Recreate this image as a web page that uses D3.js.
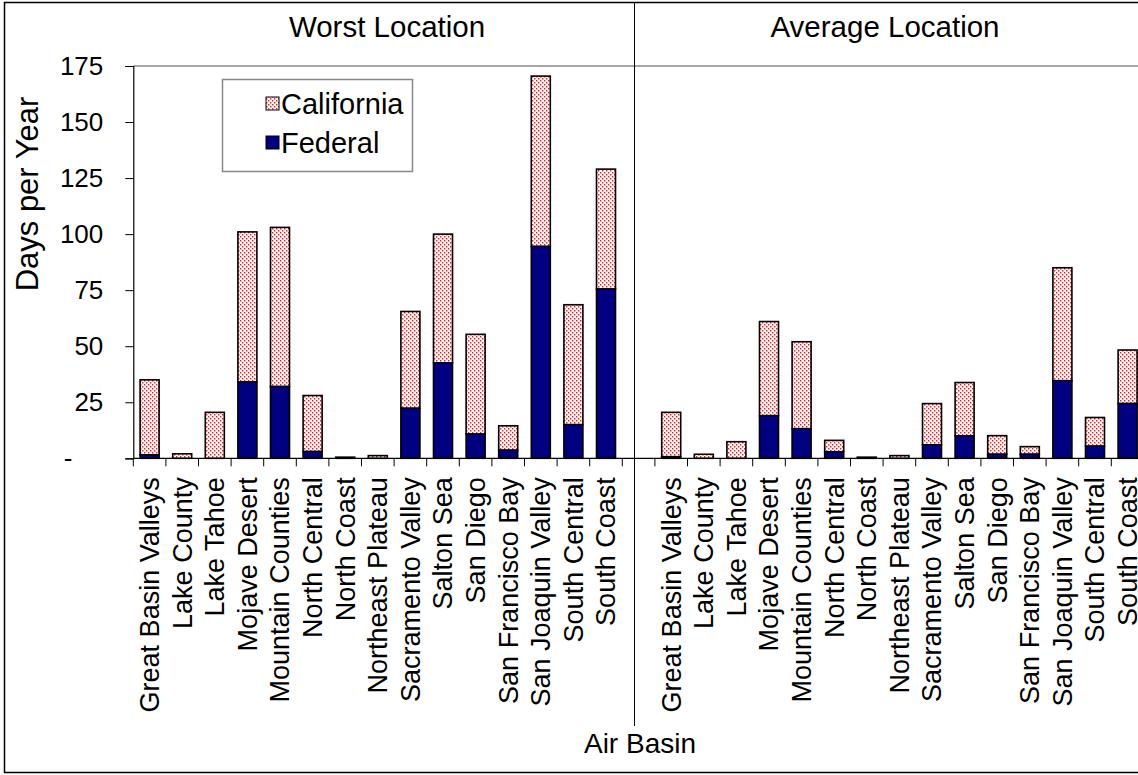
<!DOCTYPE html>
<html>
<head>
<meta charset="utf-8">
<script src="https://cdn.jsdelivr.net/npm/d3@7"></script>
<style>
  html, body { margin: 0; padding: 0; background: #fff; }
  svg { display: block; font-family: Arial, "Liberation Sans", sans-serif; }
</style>
</head>
<body>
<svg id="chart" width="1138" height="775"></svg>
<script>
// ---- data ----
const categories = ["Great Basin Valleys", "Lake County", "Lake Tahoe", "Mojave Desert", "Mountain Counties",
  "North Central", "North Coast", "Northeast Plateau", "Sacramento Valley", "Salton Sea", "San Diego",
  "San Francisco Bay", "San Joaquin Valley", "South Central", "South Coast"];
const panels = ["Worst Location", "Average Location"];
const worstFederal    = [1.5, 0, 0, 34, 32, 3, 0, 0, 22.3, 42.6, 10.8, 3.6, 94.5, 15, 75.5];
const worstCalifornia = [35, 2, 20.5, 101, 103, 28, 0.5, 1.2, 65.5, 100, 55.3, 14.5, 170.5, 68.5, 129];
const avgFederal      = [0.7, 0, 0, 19, 13.2, 2.9, 0, 0, 6, 10, 1.8, 1.8, 34.6, 5.4, 24.4];
const avgCalifornia   = [20.5, 1.8, 7.4, 61, 52, 8, 0.5, 1.2, 24.4, 33.8, 10.1, 5.2, 85, 18.2, 48.3];
const yTickValues = [0, 25, 50, 75, 100, 125, 150, 175];
const yTickLabels = ["-", "25", "50", "75", "100", "125", "150", "175"];
const seriesNames = ["California", "Federal"];

// ---- build rows ----
const rows = [];
categories.forEach((c, i) => rows.push({key: "W|" + c, name: c, fed: worstFederal[i], cal: worstCalifornia[i]}));
const gapKey = "gap";
categories.forEach((c, i) => rows.push({key: "A|" + c, name: c, fed: avgFederal[i], cal: avgCalifornia[i]}));
const domain = [...categories.map(c => "W|" + c), gapKey, ...categories.map(c => "A|" + c)];

const svg = d3.select("#chart");
const FONT = 'Arial, "Liberation Sans", sans-serif';

// pattern
const defs = svg.append("defs");
const pat = defs.append("pattern").attr("id", "dots").attr("patternUnits", "userSpaceOnUse")
  .attr("width", 4).attr("height", 4);
pat.append("rect").attr("width", 4).attr("height", 4).attr("fill", "#fff");
pat.append("rect").attr("x", 0).attr("y", 0).attr("width", 1.5).attr("height", 1.5).attr("fill", "#ff1a1a");
pat.append("rect").attr("x", 2).attr("y", 2).attr("width", 1.5).attr("height", 1.5).attr("fill", "#ff1a1a");
pat.append("rect").attr("x", 1.5).attr("y", 0).attr("width", 0.5).attr("height", 1.5).attr("fill", "#ffb8b8");
pat.append("rect").attr("x", 3.5).attr("y", 2).attr("width", 0.5).attr("height", 1.5).attr("fill", "#ffb8b8");

// outer border
svg.append("rect").attr("x", 4.5).attr("y", 2.5).attr("width", 1150).attr("height", 770)
  .attr("fill", "none").attr("stroke", "#000").attr("stroke-width", 1.5);

// scales
const left = 133.3, step = 32.6;
const x = d3.scaleBand().domain(domain).range([left, left + step * domain.length])
  .paddingInner(0.417).paddingOuter(0.2085);
const y = d3.scaleLinear().domain([0, 175]).range([458.3, 66]);

// plot top border (gray)
svg.append("line").attr("x1", left).attr("x2", 1138).attr("y1", y(175)).attr("y2", y(175))
  .attr("stroke", "#888").attr("stroke-width", 1.5);

// divider
const divX = 634.5;
svg.append("line").attr("x1", divX).attr("x2", divX).attr("y1", 3).attr("y2", 726)
  .attr("stroke", "#000").attr("stroke-width", 1);

// bars
const barG = svg.append("g");
const bw = x.bandwidth();
barG.selectAll("rect.cal").data(rows).join("rect").attr("class", "cal")
  .attr("x", d => x(d.key)).attr("width", bw)
  .attr("y", d => y(d.cal)).attr("height", d => y(d.fed) - y(d.cal))
  .attr("fill", "url(#dots)").attr("stroke", "#000").attr("stroke-width", 1.6);
barG.selectAll("rect.fed").data(rows.filter(d => d.fed > 0)).join("rect").attr("class", "fed")
  .attr("x", d => x(d.key)).attr("width", bw)
  .attr("y", d => y(d.fed)).attr("height", d => y(0) - y(d.fed))
  .attr("fill", "#000080").attr("stroke", "#000").attr("stroke-width", 1.6);

// y axis
const yAxis = d3.axisLeft(y).tickValues(yTickValues).tickSize(8).tickPadding(22)
  .tickFormat((d, i) => yTickLabels[i]);
const yg = svg.append("g").attr("transform", `translate(${left},0)`).call(yAxis);
yg.select(".domain").attr("stroke", "#000").attr("stroke-width", 1.2);
yg.selectAll(".tick line").attr("stroke", "#000").attr("stroke-width", 1);
yg.selectAll(".tick text").attr("font-family", FONT).attr("font-size", 26).attr("fill", "#000")
  .attr("dx", d => d === 0 ? -31 : 0);

// x axis
const xg = svg.append("g");
xg.append("line").attr("x1", left).attr("x2", 1138).attr("y1", y(0)).attr("y2", y(0))
  .attr("stroke", "#000").attr("stroke-width", 1.2);
const boundaries = d3.range(domain.length + 1).map(k => left + k * x.step());
xg.selectAll("line.tk").data(boundaries).join("line").attr("class", "tk")
  .attr("x1", d => d).attr("x2", d => d).attr("y1", y(0)).attr("y2", y(0) + 8)
  .attr("stroke", "#000").attr("stroke-width", 1);
xg.selectAll("text.cat").data(rows).join("text").attr("class", "cat")
  .attr("transform", d => `translate(${x(d.key) + bw / 2},${y(0) + 19}) rotate(-90)`)
  .attr("dy", "0.35em").attr("text-anchor", "end")
  .attr("font-family", FONT).attr("font-size", 27).text(d => d.name);

// axis titles
svg.append("text").attr("transform", "translate(27,194) rotate(-90)").attr("dy", "0.35em")
  .attr("text-anchor", "middle").attr("font-family", FONT).attr("font-size", 31).text("Days per Year");
svg.append("text").attr("x", 640).attr("y", 743).attr("dy", "0.35em").attr("text-anchor", "middle")
  .attr("font-family", FONT).attr("font-size", 28).text("Air Basin");

// panel titles
svg.selectAll("text.panel").data(panels).join("text").attr("class", "panel")
  .attr("x", (d, i) => i === 0 ? 387 : 885).attr("y", 27).attr("dy", "0.35em").attr("text-anchor", "middle")
  .attr("font-family", FONT).attr("font-size", 29.5).text(d => d);

// legend
const lg = svg.append("g");
lg.append("rect").attr("x", 222.5).attr("y", 79.5).attr("width", 190).attr("height", 92)
  .attr("fill", "#fff").attr("stroke", "#888").attr("stroke-width", 1.5);
const legendFills = ["url(#dots)", "#000080"];
seriesNames.forEach((s, i) => {
  const cy = 103.5 + i * 39;
  lg.append("rect").attr("x", 266).attr("y", cy - 6.5).attr("width", 13).attr("height", 13)
    .attr("fill", legendFills[i]).attr("stroke", "#000").attr("stroke-width", 1);
  lg.append("text").attr("x", 281).attr("y", cy).attr("dy", "0.35em")
    .attr("font-family", FONT).attr("font-size", 29).text(s);
});
</script>
</body>
</html>
